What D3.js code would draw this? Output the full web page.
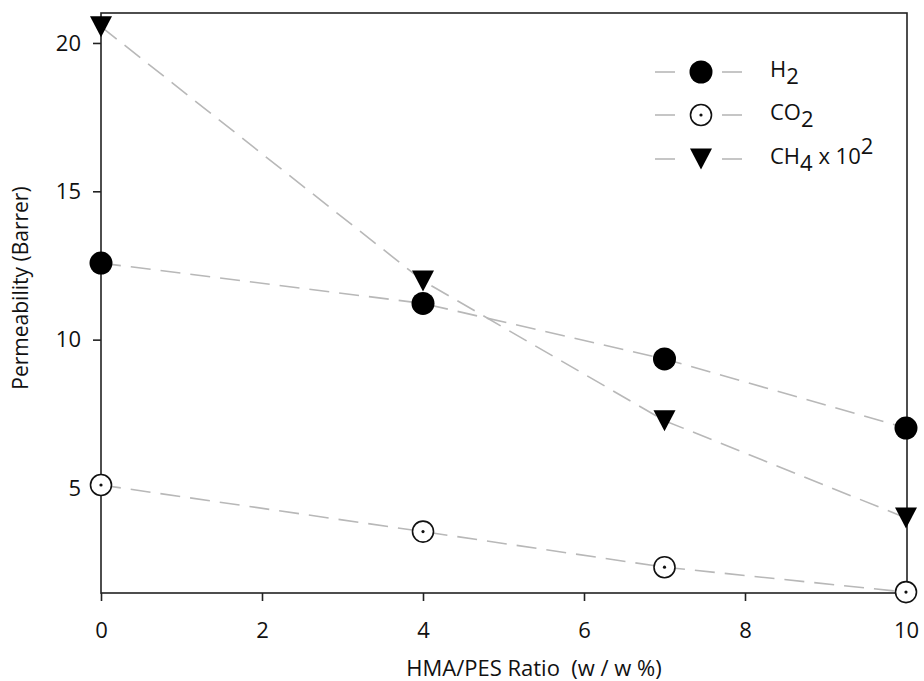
<!DOCTYPE html>
<html>
<head>
<meta charset="utf-8">
<script src="https://cdn.jsdelivr.net/npm/d3@7"></script>
<style>
  body { margin: 0; background: #fff; }
  text { font-family: "Open Sans", sans-serif; fill: #111; }
</style>
</head>
<body>
<svg width="924" height="681"></svg>
<script>
// data
const ratio = [0, 4, 7, 10];
const h2 = [12.58, 11.22, 9.35, 7.02];
const co2 = [5.1, 3.53, 2.33, 1.49];
const ch4 = [20.55, 11.98, 7.27, 3.99];   // x 10^2
const xTicks = [0, 2, 4, 6, 8, 10];
const yTicks = [5, 10, 15, 20];

const svg = d3.select("svg");
const pLeft = 101, pRight = 907, pTop = 13, pBottom = 593;

const x = d3.scaleLinear().domain([0, 10]).range([pLeft, 906]);
const y = d3.scaleLinear().domain([1.46, 21.01]).range([pBottom, pTop]);

// frame
svg.append("rect")
  .attr("x", pLeft).attr("y", pTop)
  .attr("width", pRight - pLeft).attr("height", pBottom - pTop)
  .attr("fill", "none").attr("stroke", "#222").attr("stroke-width", 1.6);

// axes
const xAxis = svg.append("g")
  .attr("transform", `translate(0,${pBottom})`)
  .call(d3.axisBottom(x).tickValues(xTicks).tickSize(8).tickPadding(21));
const yAxis = svg.append("g")
  .attr("transform", `translate(${pLeft},0)`)
  .call(d3.axisLeft(y).tickValues(yTicks).tickSize(8).tickPadding(12));
[xAxis, yAxis].forEach(g => {
  g.select(".domain").remove();
  g.selectAll(".tick line").attr("stroke", "#222").attr("stroke-width", 1.6);
  g.selectAll(".tick text").attr("font-size", 22).attr("font-family", "Open Sans, sans-serif").attr("fill", "#111");
});

svg.append("text")
  .attr("x", 534).attr("y", 676)
  .attr("text-anchor", "middle").attr("font-size", 22)
  .style("white-space", "pre")
  .text("HMA/PES Ratio  (w / w %)");

svg.append("text")
  .attr("transform", `translate(28,288) rotate(-90)`)
  .attr("text-anchor", "middle").attr("font-size", 21)
  .text("Permeability (Barrer)");

// lines
const series = [
  { name: "H2", vals: h2, type: "fill" },
  { name: "CO2", vals: co2, type: "open" },
  { name: "CH4", vals: ch4, type: "tri" }
];

const line = d3.line().x(d => x(d[0])).y(d => y(d[1]));
const dash = "20,10";
const lineColor = "#b8b8b8";

series.forEach(s => {
  svg.append("path")
    .datum(ratio.map((r, i) => [r, s.vals[i]]))
    .attr("d", line)
    .attr("fill", "none").attr("stroke", lineColor)
    .attr("stroke-width", 1.6).attr("stroke-dasharray", dash);
});

function marker(g, type, cx, cy) {
  if (type === "fill") {
    g.append("circle").attr("cx", cx).attr("cy", cy).attr("r", 11.5).attr("fill", "#000");
  } else if (type === "open") {
    g.append("circle").attr("cx", cx).attr("cy", cy).attr("r", 10.5)
      .attr("fill", "#fff").attr("stroke", "#111").attr("stroke-width", 1.6);
    g.append("circle").attr("cx", cx).attr("cy", cy).attr("r", 1.6).attr("fill", "#111");
  } else {
    const w = 11, h = 10.5;
    g.append("path")
      .attr("d", `M${cx - w},${cy - h}L${cx + w},${cy - h}L${cx},${cy + h}Z`)
      .attr("fill", "#000");
  }
}

const marks = svg.append("g");
series.forEach(s => {
  ratio.forEach((r, i) => marker(marks, s.type, x(r), y(s.vals[i])));
});

// legend
const legend = svg.append("g");
const rows = [
  { type: "fill", y: 72, label: ["H", "2"] },
  { type: "open", y: 115, label: ["CO", "2"] },
  { type: "tri", y: 159, label: ["CH", "4", " x 10", "2"] }
];
rows.forEach(r => {
  legend.append("line")
    .attr("x1", 655).attr("x2", 675).attr("y1", r.y).attr("y2", r.y)
    .attr("stroke", lineColor).attr("stroke-width", 1.6);
  legend.append("line")
    .attr("x1", 722).attr("x2", 742).attr("y1", r.y).attr("y2", r.y)
    .attr("stroke", lineColor).attr("stroke-width", 1.6);
  marker(legend, r.type, 701, r.y);
  const t = legend.append("text").attr("x", 770).attr("y", r.y + 5).attr("font-size", 22)
    .style("white-space", "pre");
  t.append("tspan").text(r.label[0]);
  t.append("tspan").attr("dy", 7).text(r.label[1]);
  if (r.label.length > 2) {
    t.append("tspan").attr("dy", -7).text(r.label[2]);
    t.append("tspan").attr("dy", -10).text(r.label[3]);
  }
});
</script>
</body>
</html>
